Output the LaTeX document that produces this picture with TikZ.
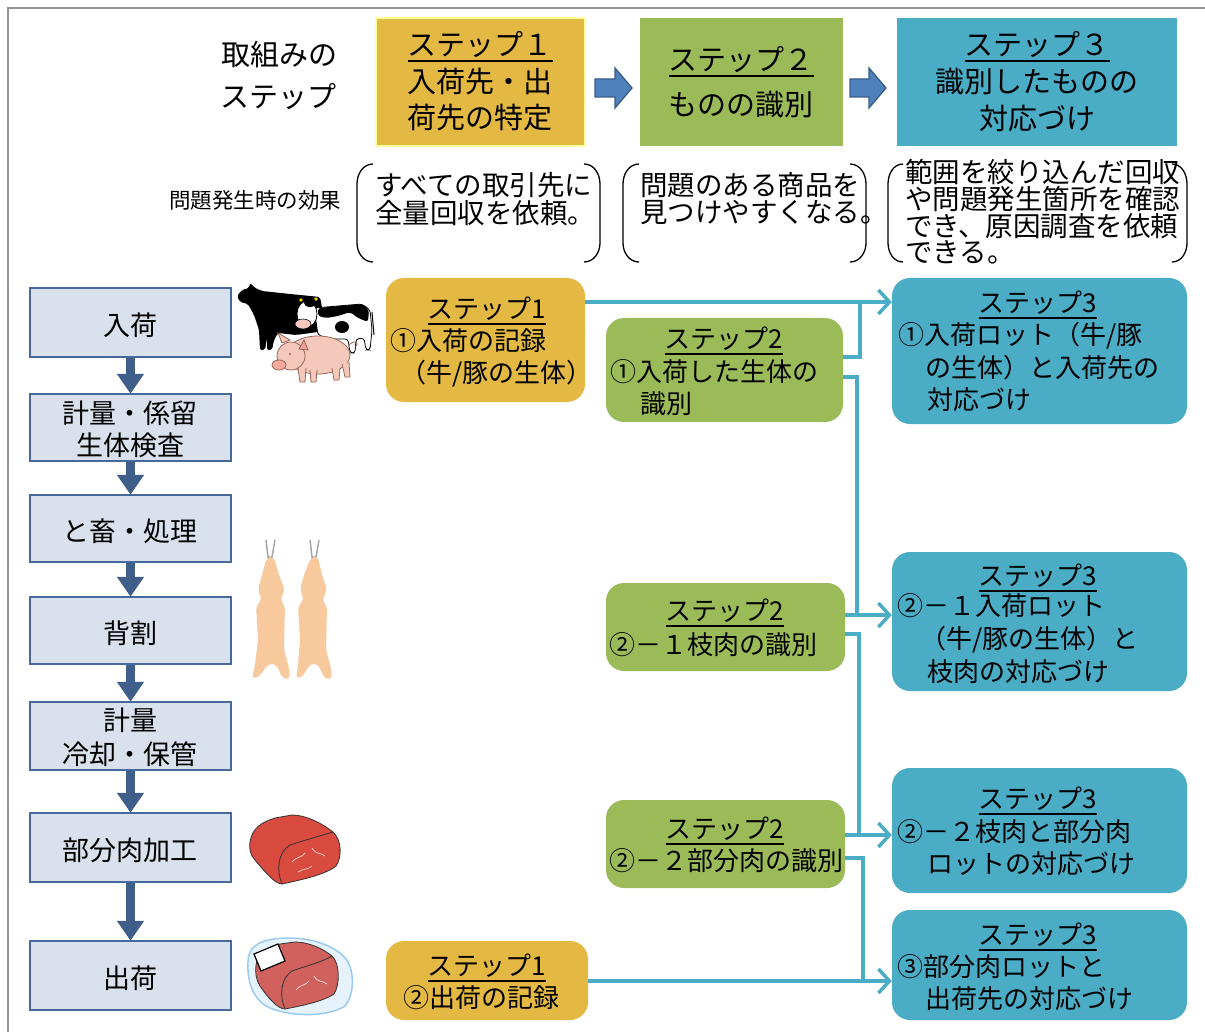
\documentclass[tikz,border=0pt]{standalone}
\usepackage{fontspec}
\setmainfont{Noto Sans CJK JP}
\usetikzlibrary{arrows.meta}
\definecolor{cyel}{HTML}{E3B843}
\definecolor{cyelb}{HTML}{FFFF99}
\definecolor{cgrn}{HTML}{9BBB59}
\definecolor{cteal}{HTML}{4BACC6}
\definecolor{clbf}{HTML}{D9E1EC}
\definecolor{clbd}{HTML}{46689A}
\definecolor{cdark}{HTML}{3F5F8A}
\definecolor{cblu}{HTML}{4F81BD}
\definecolor{cblud}{HTML}{385D8A}
\definecolor{cpig}{HTML}{F4C8BA}
\definecolor{cpigd}{HTML}{9C6458}
\definecolor{ccar}{HTML}{F7C99C}
\definecolor{cmeat}{HTML}{D94A3F}
\definecolor{cmeat2}{HTML}{D0615D}
\definecolor{cbag}{HTML}{E6F2FC}
\definecolor{cbagd}{HTML}{9CCBF2}
\newcommand{\myul}[2][1.6pt]{\setbox0=\hbox{#2}\leavevmode\rlap{\copy0}\smash{\raisebox{-0.22em}{\rule{\wd0}{#1}}}}
\tikzset{
  hdrbox/.style={minimum width=#1, minimum height=128, inner sep=0},
  hdrtxt/.style={font=\fontsize{29}{33}\selectfont, inner sep=0, anchor=center},
  brktxt/.style={font=\fontsize{27.5}{30}\selectfont, inner sep=0, anchor=west},
  brk/.style={draw=black, line width=1.3},
  lbox/.style={draw=clbd, fill=clbf, line width=2.5, minimum width=201, minimum height=#1, inner sep=0},
  ltxt/.style={font=\fontsize{27}{30}\selectfont, inner sep=0, anchor=center},
  darr/.style={draw=cdark, line width=9, -{Triangle[width=26pt,length=20pt]}, shorten >=-1pt},
  mbox/.style={rounded corners=18, minimum width=#1, inner sep=0},
  mtitle/.style={font=\fontsize{26}{28}\selectfont, inner sep=0, anchor=center},
  mtxt/.style={font=\fontsize{26}{28}\selectfont, inner sep=0, anchor=west},
  conn/.style={draw=cteal, line width=3.5},
  ctip/.style={-{Straight Barb[length=11pt,width=24pt]}},
}
\begin{document}
\begin{tikzpicture}[x=1pt,y=-1pt]
\useasboundingbox (0,0) rectangle (1205,1032);
\fill[white] (0,0) rectangle (1205,1032);
\draw[gray!85, line width=2] (8,1032) -- (8,8) -- (1205,8);

% ---------- header ----------
\node[hdrtxt] (hA) at (279,55) {取組みの};
\node[hdrtxt] (hB) at (278,97) {ステップ};

\node[hdrbox=209, fill=cyel, draw=cyelb, line width=2] (h1) at (480.5,82) {};
\node[hdrbox=203, fill=cgrn] (h2) at (741.5,82) {};
\node[hdrbox=280, fill=cteal] (h3) at (1037,82) {};

\node[hdrtxt] (h1a) at (480,45) {\myul[2.2pt]{ステップ１}};
\node[hdrtxt] (h1b) at (480,82) {入荷先・出};
\node[hdrtxt] (h1c) at (480,118) {荷先の特定};
\node[hdrtxt] (h2a) at (741,60) {\myul[2.2pt]{ステップ２}};
\node[hdrtxt] (h2b) at (741,105) {ものの識別};
\node[hdrtxt] (h3a) at (1037,45) {\myul[2.2pt]{ステップ３}};
\node[hdrtxt] (h3b) at (1037,82) {識別したものの};
\node[hdrtxt] (h3c) at (1037,118) {対応づけ};

\filldraw[fill=cblu, draw=cblud, line width=1.3] (595,79) -- (615,79) -- (615,68) -- (632,88) -- (615,108) -- (615,97) -- (595,97) -- cycle;
\filldraw[fill=cblu, draw=cblud, line width=1.3] (850,79) -- (869,79) -- (869,68) -- (886,88) -- (869,108) -- (869,97) -- (850,97) -- cycle;

% ---------- effect brackets ----------
\node[font=\fontsize{21.5}{24}\selectfont, inner sep=0] (eff) at (255,200) {問題発生時の効果};

\draw[brk] (373,164) to[out=180,in=90] (357,184) -- (357,243) to[out=-90,in=180] (373,262);
\draw[brk] (584,164) to[out=0,in=90] (600,184) -- (600,243) to[out=-90,in=0] (584,262);
\draw[brk] (639,164) to[out=180,in=90] (623,184) -- (623,243) to[out=-90,in=180] (639,262);
\draw[brk] (850,164) to[out=0,in=90] (866,184) -- (866,243) to[out=-90,in=0] (850,262);
\draw[brk] (903,164) to[out=180,in=90] (888,184) -- (888,243) to[out=-90,in=180] (903,262);
\draw[brk] (1172,164) to[out=0,in=90] (1187,184) -- (1187,243) to[out=-90,in=0] (1172,262);

\node[brktxt] (b1a) at (375,185) {すべての取引先に};
\node[brktxt] (b1b) at (375,213) {全量回収を依頼。};
\node[brktxt] (b2a) at (640,185) {問題のある商品を};
\node[brktxt] (b2b) at (640,213) {見つけやすくなる。};
\node[brktxt] (b3a) at (905,172) {範囲を絞り込んだ回収};
\node[brktxt] (b3b) at (905,199) {や問題発生箇所を確認};
\node[brktxt] (b3c) at (905,226) {でき、原因調査を依頼};
\node[brktxt] (b3d) at (905,252) {できる。};

% ---------- left process column ----------
\node[lbox=69] (L1) at (130.5,322.5) {};
\node[lbox=67] (L2) at (130.5,427.5) {};
\node[lbox=67] (L3) at (130.5,528.5) {};
\node[lbox=67] (L4) at (130.5,630.5) {};
\node[lbox=68] (L5) at (130.5,736) {};
\node[lbox=69] (L6) at (130.5,847.5) {};
\node[lbox=69] (L7) at (130.5,975.5) {};

\node[ltxt] (L1t) at (130,325) {入荷};
\node[ltxt] (L2t) at (130,413) {計量・係留};
\node[ltxt] (L2u) at (130,445) {生体検査};
\node[ltxt] (L3t) at (130,531) {と畜・処理};
\node[ltxt] (L4t) at (130,633) {背割};
\node[ltxt] (L5t) at (130,720) {計量};
\node[ltxt] (L5u) at (130,754) {冷却・保管};
\node[ltxt] (L6t) at (130,850) {部分肉加工};
\node[ltxt] (L7t) at (130,978) {出荷};

\draw[darr] (L1.south) -- (L2.north);
\draw[darr] (L2.south) -- (L3.north);
\draw[darr] (L3.south) -- (L4.north);
\draw[darr] (L4.south) -- (L5.north);
\draw[darr] (L5.south) -- (L6.north);
\draw[darr] (L6.south) -- (L7.north);

% ---------- pictures ----------
% black cow
\fill[black, rounded corners=2] (237,296) -- (242,290) -- (249,288) -- (250,283) -- (255,288) -- (262,291) -- (290,294) -- (320,297) -- (324,318) -- (318,332) -- (296,335) -- (278,333) -- (274,340) -- (272,350) -- (267,350) -- (267,338) -- (265,350) -- (260,350) -- (259,330) -- (254,315) -- (248,304) -- (240,302) -- cycle;
% holstein
\filldraw[fill=white, draw=black, line width=0.8, rounded corners=3] (314,308) -- (362,304) -- (370,310) -- (372,330) -- (370,350) -- (366,350) -- (364,338) -- (356,339) -- (355,353) -- (350,353) -- (348,339) -- (330,339) -- (318,335) -- cycle;
\fill[black, rounded corners=3] (318,308) -- (362,304) -- (369,310) -- (368,322) -- (358,318) -- (350,312) -- (338,316) -- (326,318) -- (318,316) -- cycle;
\fill[black] (342,327) ellipse (7 and 6);
\draw[black, line width=1] (372,312) -- (374,335);
\filldraw[fill=white, draw=black, line width=0.8] (307,314) ellipse (10 and 13);
\fill[black] (310,303) ellipse (6 and 4);
\filldraw[fill=cpig, draw=black, line width=0.6] (303,324) ellipse (8 and 5);
\fill[yellow!70!orange] (301,300) circle (1.8);
\fill[yellow!70!orange] (316,299) circle (1.8);
% pig
\filldraw[fill=cpig, draw=cpigd, line width=0.8] (318,355) ellipse (32 and 19);
\filldraw[fill=cpig, draw=cpigd, line width=0.8] (298,368) -- (300,382) -- (305,382) -- (306,368);
\filldraw[fill=cpig, draw=cpigd, line width=0.8] (310,370) -- (311,382) -- (316,382) -- (317,370);
\filldraw[fill=cpig, draw=cpigd, line width=0.8] (332,368) -- (334,380) -- (339,380) -- (340,368);
\filldraw[fill=cpig, draw=cpigd, line width=0.8] (342,364) -- (345,377) -- (350,377) -- (349,362);
\filldraw[fill=cpig, draw=cpigd, line width=0.8] (291,356) circle (14);
\filldraw[fill=cpig, draw=cpigd, line width=0.8] (282,343) -- (278,333) -- (290,340) -- cycle;
\filldraw[fill=cpig!80!red, draw=cpigd, line width=0.8] (299,349) -- (304,340) -- (308,350) -- cycle;
\filldraw[fill=cpig!85!red, draw=cpigd, line width=0.8] (279,365) ellipse (7 and 5);
\fill[cpigd] (290,354) circle (1.2);
\draw[cpigd, line width=0.8] (349,345) .. controls (356,338) and (360,344) .. (355,347);

% carcasses
\draw[gray!70, line width=1.5] (266,540) -- (268,557) -- (272,557) -- (275,540);
\draw[gray!70, line width=1.5] (310,540) -- (312,557) -- (316,557) -- (319,540);
\fill[ccar, rounded corners=4] (267,557) -- (274,557) -- (279,575) -- (285,590) -- (280,600) -- (285,606) -- (284,650) -- (289,668) -- (290,679) -- (283,679) -- (276,664) -- (268,664) -- (260,676) -- (252,679) -- (255,665) -- (258,640) -- (256,606) -- (262,600) -- (258,590) -- (262,575) -- cycle;
\fill[ccar, rounded corners=4] (311,557) -- (318,557) -- (322,575) -- (327,590) -- (322,600) -- (327,606) -- (326,650) -- (331,668) -- (332,679) -- (325,679) -- (318,664) -- (310,664) -- (303,676) -- (296,679) -- (298,665) -- (300,640) -- (298,606) -- (304,600) -- (300,590) -- (304,575) -- cycle;

% meat block
\filldraw[fill=cmeat, draw=black!80, line width=0.8] (250,842) .. controls (252,828) and (262,822) .. (275,818) -- (292,815) .. controls (305,815) and (320,822) .. (333,832) .. controls (342,840) and (342,858) .. (336,866) .. controls (325,875) and (300,880) .. (282,884) .. controls (275,884) and (265,872) .. (255,860) .. controls (250,855) and (249,848) .. (250,842) -- cycle;
\draw[black!80, line width=0.8] (282,884) .. controls (276,870) and (278,852) .. (290,845) .. controls (305,840) and (320,836) .. (333,832);
\draw[white!80!cmeat, line width=0.7] (292,862) .. controls (297,856) and (302,858) .. (305,853);
\draw[white!80!cmeat, line width=0.7] (312,848) .. controls (316,855) and (320,852) .. (325,856);
\draw[white!80!cmeat, line width=0.7] (298,872) .. controls (304,868) and (308,870) .. (312,866);

% packaged meat
\filldraw[fill=cbag, draw=cbagd, line width=1.5] (248,962) .. controls (248,945) and (262,938) .. (290,938) .. controls (315,938) and (340,948) .. (348,962) .. controls (356,978) and (352,998) .. (345,1006) .. controls (330,1016) and (295,1018) .. (270,1008) .. controls (252,1000) and (247,980) .. (248,962) -- cycle;
\filldraw[fill=cmeat2, draw=black!80, line width=0.8] (256,965) .. controls (258,952) and (268,947) .. (280,944) -- (295,942) .. controls (308,942) and (322,948) .. (332,956) .. controls (340,963) and (340,985) .. (334,994) .. controls (322,1002) and (300,1006) .. (285,1009) .. controls (278,1009) and (268,998) .. (260,986) .. controls (256,980) and (255,972) .. (256,965) -- cycle;
\draw[black!80, line width=0.8] (285,1009) .. controls (279,995) and (281,978) .. (292,971) .. controls (306,966) and (322,962) .. (332,956);
\draw[white!80!cmeat2, line width=0.7] (296,990) .. controls (301,984) and (305,986) .. (309,981);
\draw[white!80!cmeat2, line width=0.7] (314,976) .. controls (318,983) and (322,980) .. (327,984);
\filldraw[fill=white, draw=black, line width=1.2] (254,954) -- (278,944) -- (285,961) -- (261,971) -- cycle;

% ---------- middle boxes ----------
\node[mbox=199, minimum height=124, fill=cyel] (m1) at (485.5,340) {};
\node[mbox=237, minimum height=104, fill=cgrn] (m2) at (724.5,370) {};
\node[mbox=295, minimum height=146, fill=cteal] (m3) at (1039.5,351) {};
\node[mbox=239, minimum height=88, fill=cgrn] (m4) at (725.5,627) {};
\node[mbox=295, minimum height=139, fill=cteal] (m5) at (1039.5,621.5) {};
\node[mbox=239, minimum height=88, fill=cgrn] (m6) at (725.5,844) {};
\node[mbox=295, minimum height=125, fill=cteal] (m7) at (1039.5,830.5) {};
\node[mbox=202, minimum height=79, fill=cyel] (m8) at (487,980.5) {};
\node[mbox=295, minimum height=110, fill=cteal] (m9) at (1039.5,965) {};

\node[mtitle] (m1a) at (487,309) {\myul{ステップ1}};
\node[mtxt] (m1b) at (390,341) {①入荷の記録};
\node[mtxt] (m1c) at (400,374) {（牛/豚の生体）};

\node[mtitle] (m2a) at (724,339) {\myul{ステップ2}};
\node[mtxt] (m2b) at (610,372) {①入荷した生体の};
\node[mtxt] (m2c) at (640,404) {識別};

\node[mtitle] (m3a) at (1038,303) {\myul{ステップ3}};
\node[mtxt] (m3b) at (898,336) {①入荷ロット（牛/豚};
\node[mtxt] (m3c) at (925,368) {の生体）と入荷先の};
\node[mtxt] (m3d) at (927,400) {対応づけ};

\node[mtitle] (m4a) at (725,611) {\myul{ステップ2}};
\node[mtxt] (m4b) at (609,645) {②－１枝肉の識別};

\node[mtitle] (m5a) at (1038,576) {\myul{ステップ3}};
\node[mtxt] (m5b) at (897,606) {②－１入荷ロット};
\node[mtxt] (m5c) at (920,640) {（牛/豚の生体）と};
\node[mtxt] (m5d) at (927,672) {枝肉の対応づけ};

\node[mtitle] (m6a) at (725,829) {\myul{ステップ2}};
\node[mtxt] (m6b) at (609,861) {②－２部分肉の識別};

\node[mtitle] (m7a) at (1038,799) {\myul{ステップ3}};
\node[mtxt] (m7b) at (897,832) {②－２枝肉と部分肉};
\node[mtxt] (m7c) at (927,864) {ロットの対応づけ};

\node[mtitle] (m8a) at (487,966) {\myul{ステップ1}};
\node[mtxt] (m8b) at (403,998) {②出荷の記録};

\node[mtitle] (m9a) at (1038,935) {\myul{ステップ3}};
\node[mtxt] (m9b) at (897,967) {③部分肉ロットと};
\node[mtxt] (m9c) at (925,999) {出荷先の対応づけ};

% ---------- connectors ----------
\coordinate (ja) at (860,302);
\coordinate (jb) at (860,357);
\coordinate (jc) at (857,377);
\coordinate (jd) at (857,615);
\coordinate (je) at (859,634);
\coordinate (jf) at (859,835);
\coordinate (jg) at (863,858);
\coordinate (jh) at (863,981);

\draw[conn, ctip] (m1.east |- ja) -- (m3.west |- ja);
\draw[conn] (m2.east |- jb) -- (jb) -- (ja);
\draw[conn] (m2.east |- jc) -- (jc) -- (jd);
\draw[conn, ctip] (m4.east |- jd) -- (m5.west |- jd);
\draw[conn] (m4.east |- je) -- (je) -- (jf);
\draw[conn, ctip] (m6.east |- jf) -- (m7.west |- jf);
\draw[conn] (m6.east |- jg) -- (jg) -- (jh);
\draw[conn, ctip] (m8.east |- jh) -- (m9.west |- jh);
\end{tikzpicture}
\end{document}
